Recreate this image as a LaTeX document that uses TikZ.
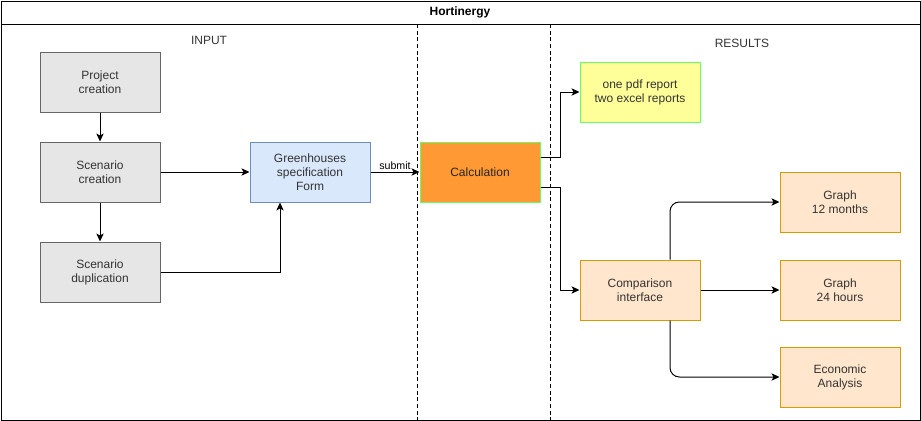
\documentclass[tikz,border=0pt]{standalone}
\usepackage{fontspec}
\setmainfont{Liberation Sans}
\usepackage{xcolor}
\usepackage{tikz}
\usetikzlibrary{positioning, arrows.meta}

\definecolor{txtgray}{HTML}{333333}
\definecolor{boxgray}{HTML}{E6E6E6}
\definecolor{edgegray}{HTML}{666666}
\definecolor{formblue}{HTML}{DAE8FC}
\definecolor{edgeblue}{HTML}{6C8EBF}
\definecolor{calcorange}{HTML}{FF9933}
\definecolor{edgegreen}{HTML}{66FF66}
\definecolor{reportyellow}{HTML}{FFFF99}
\definecolor{resultpeach}{HTML}{FFE6CC}
\definecolor{edgeorange}{HTML}{D79B00}

\begin{document}
\begin{tikzpicture}[x=0.75pt, y=-0.75pt,
    font=\fontsize{9}{10.5}\selectfont,
    box/.style={draw, line width=0.75pt, minimum width=90pt, minimum height=45pt,
      align=center, text=txtgray, inner sep=2pt},
    inputbox/.style={box, fill=boxgray, draw=edgegray},
    formbox/.style={box, fill=formblue, draw=edgeblue},
    calcbox/.style={box, fill=calcorange, draw=edgegreen, text=black!85},
    reportbox/.style={box, fill=reportyellow, draw=edgegreen},
    resultbox/.style={box, fill=resultpeach, draw=edgeorange},
    arr/.style={-{Stealth[length=6pt, width=5.5pt, inset=1.5pt]}, line width=0.75pt},
    lane/.style={dash pattern=on 3pt off 2pt, line width=0.75pt}]
  \useasboundingbox (0,0) rectangle (921,421);

  % frame and lanes
  \draw[line width=0.75pt] (1,1) rectangle (920,420);
  \draw[line width=0.75pt] (1,24) -- (920,24);
  \node[font=\fontsize{9}{10.5}\selectfont\bfseries] (title) at (460,12) {Hortinergy};
  \draw[lane] (417,24) -- (417,420);
  \draw[lane] (550,24) -- (550,420);
  \node[text=txtgray] (input) at (209,40) {INPUT};
  \node[text=txtgray] (results) at (742,43) {RESULTS};

  % input side
  \node[inputbox] (proj) at (100,82) {Project\\creation};
  \node[inputbox] (scen) at (100,172) {Scenario\\creation};
  \node[inputbox] (dup) at (100,272) {Scenario\\duplication};
  \node[formbox] (form) at (310,172) {Greenhouses\\specification\\Form};

  % calculation
  \node[calcbox] (calc) at (480,172) {Calculation};

  % results side
  \node[reportbox] (reports) at (640,92) {one pdf report\\two excel reports};
  \node[resultbox] (comp) at (640,290) {Comparison\\interface};
  \node[resultbox] (g12) at (840,202) {Graph\\12 months};
  \node[resultbox] (g24) at (840,290) {Graph\\24 hours};
  \node[resultbox] (econ) at (840,377) {Economic\\Analysis};

  % connectors
  \draw[arr] (proj) -- (scen);
  \draw[arr] (scen) -- (dup);
  \draw[arr] (scen) -- (form);
  \draw[arr] (dup.east) -| ([xshift=-22.5pt]form.south);
  \draw[arr] (form) -- node[above, text=black, font=\fontsize{8}{9}\selectfont, inner sep=1.5pt] {submit} (calc);
  \draw[arr] ([yshift=11.25pt]calc.east) -- ++(20,0) |- (reports.west);
  \draw[arr] ([yshift=-11.25pt]calc.east) -- ++(20,0) |- (comp.west);
  \draw[arr, rounded corners=7pt] ([xshift=22.5pt]comp.north) |- (g12.west);
  \draw[arr] (comp) -- (g24);
  \draw[arr, rounded corners=7pt] ([xshift=22.5pt]comp.south) |- (econ.west);
\end{tikzpicture}
\end{document}
